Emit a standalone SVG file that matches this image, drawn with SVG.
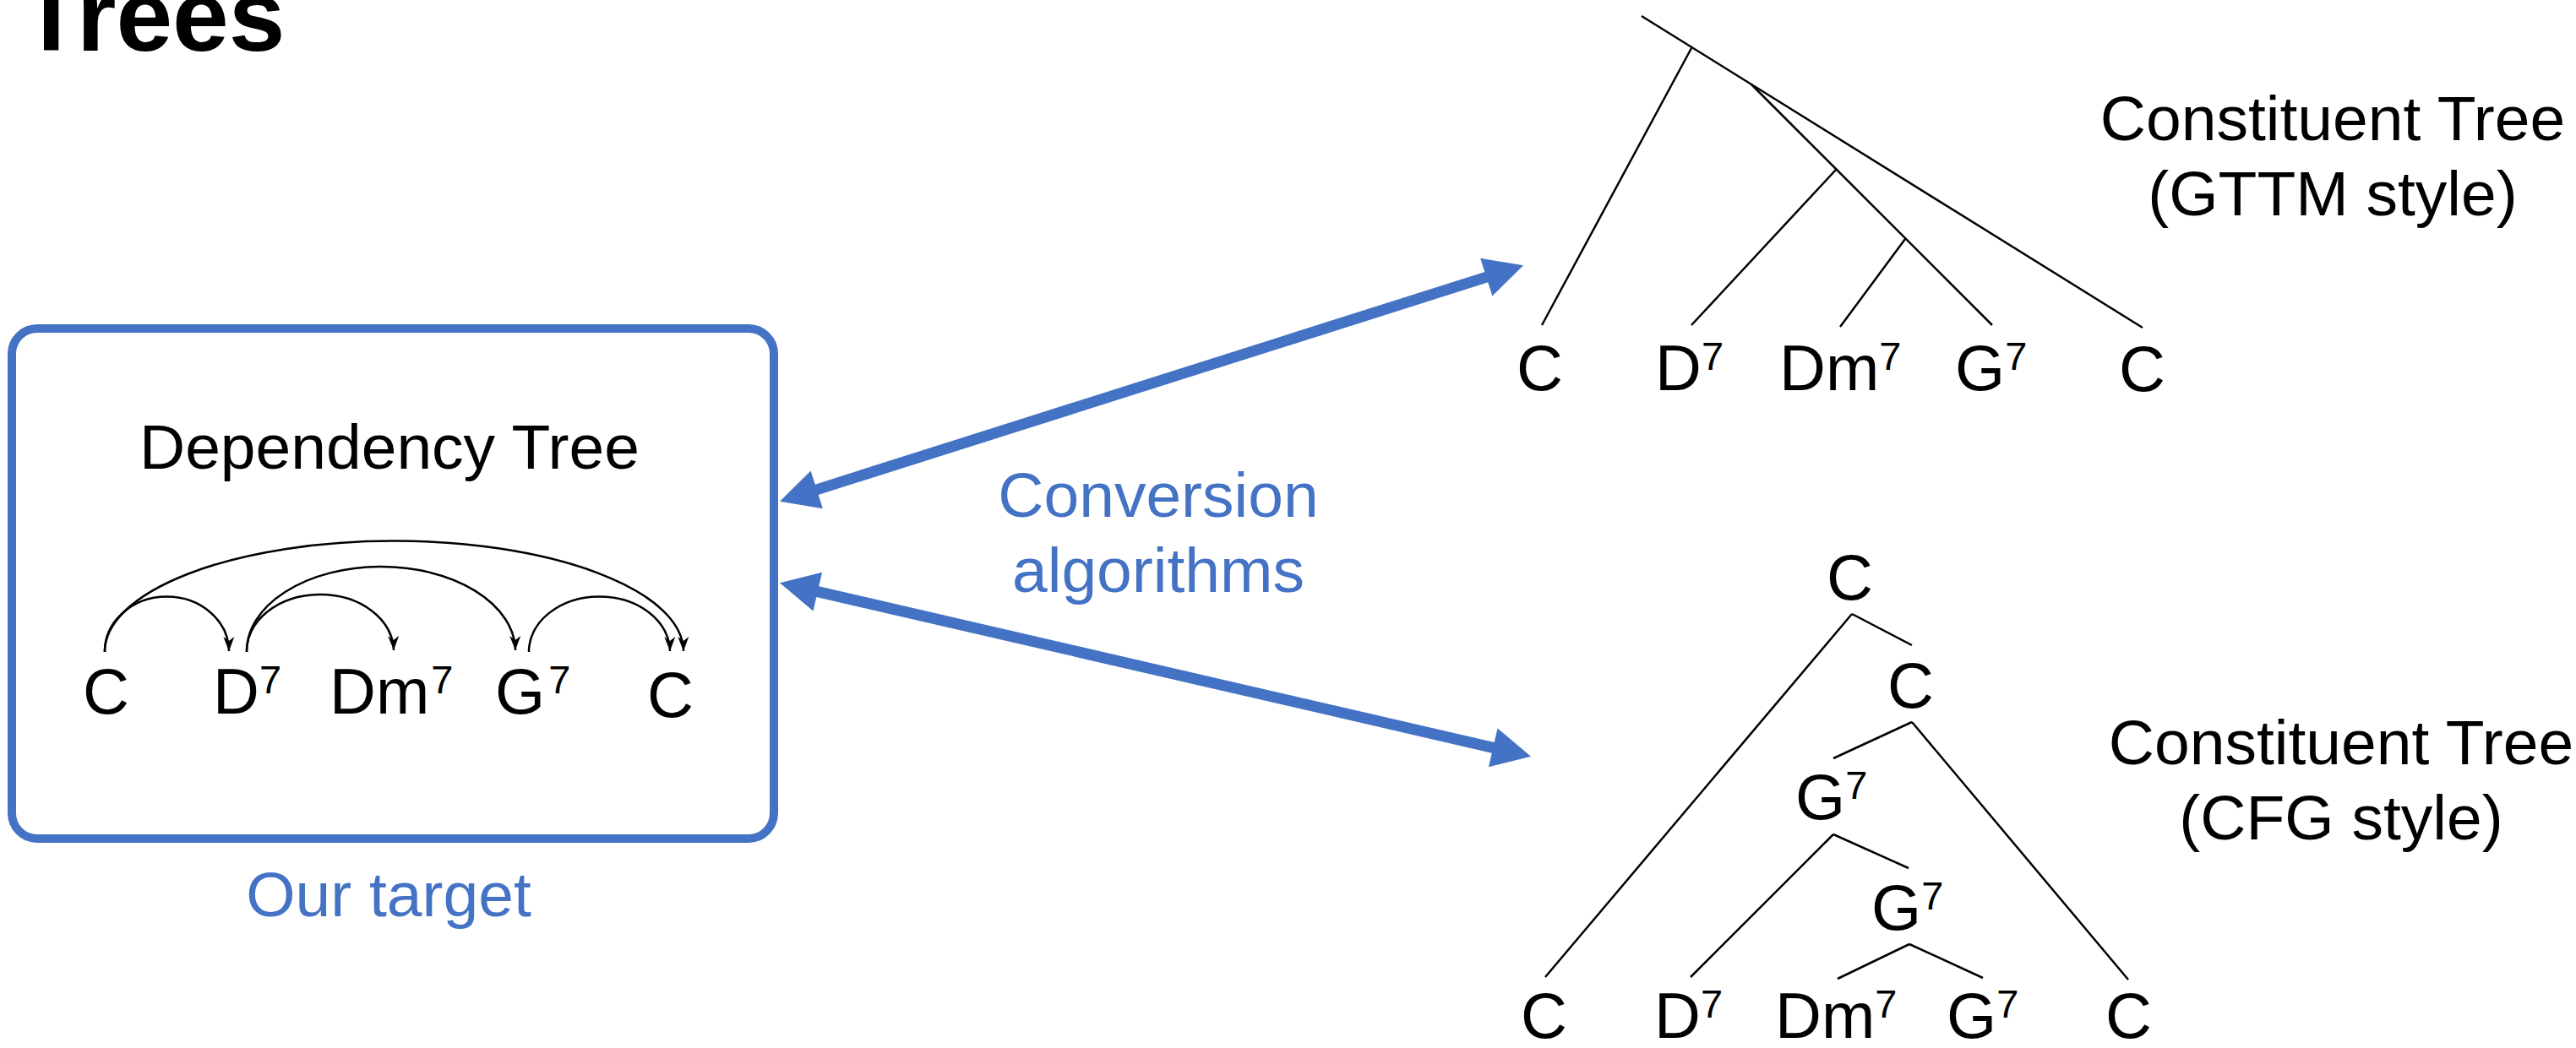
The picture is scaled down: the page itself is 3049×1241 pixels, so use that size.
<svg xmlns="http://www.w3.org/2000/svg" width="3049" height="1241" viewBox="0 0 3049 1241">
<style>
text{font-family:"Liberation Sans",Arial,sans-serif;fill:#000}
.lbl{font-size:76px}
.sup{font-size:47px}
.cap{font-size:75px;text-anchor:middle}
.blue{fill:#4472C4}
.tl{stroke:#000;stroke-width:2.5;fill:none}
.dep{stroke:#000;stroke-width:2.5;fill:none;marker-end:url(#stealth)}
.big{stroke:#4472C4;stroke-width:13;fill:none;marker-start:url(#bh);marker-end:url(#bh)}
</style>
<defs>
<marker id="stealth" markerUnits="userSpaceOnUse" markerWidth="20" markerHeight="16" viewBox="-18 -8 20 16" refX="0" refY="0" orient="auto" overflow="visible">
<path d="M0,0 L-17,-6.5 L-12,0 L-17,6.5 Z" fill="#000"/>
</marker>
<marker id="bh" markerUnits="userSpaceOnUse" markerWidth="48" markerHeight="48" viewBox="0 0 48 48" refX="1" refY="23.5" orient="auto-start-reverse" overflow="visible">
<path d="M0,0 L46,23.5 L0,47 Z" fill="#4472C4"/>
</marker>
</defs>
<rect width="3049" height="1241" fill="#fff"/>
<text id="title" x="24" y="60" font-size="120" font-weight="bold">Trees</text>

<g id="dependency-tree">
<rect x="14" y="389" width="902" height="604" rx="30" ry="30" fill="none" stroke="#4472C4" stroke-width="10"/>
<text class="cap" x="461" y="555">Dependency Tree</text>
<g id="dep-labels">
<text class="lbl" x="98" y="845">C</text>
<text class="lbl" x="252" y="845">D<tspan class="sup" dy="-24">7</tspan></text>
<text class="lbl" x="390" y="845">Dm<tspan class="sup" dy="-24" dx="2">7</tspan></text>
<text class="lbl" x="586" y="845">G<tspan class="sup" dy="-24" dx="4">7</tspan></text>
<text class="lbl" x="766" y="849">C</text>
</g>
<g id="dep-arcs">
<path class="dep" d="M124,772 A73.5,65 0 0 1 271,771"/>
<path class="dep" d="M124,772 A342.5,131 0 0 1 809,771"/>
<path class="dep" d="M292,772 A87,67 0 0 1 466,770"/>
<path class="dep" d="M292,772 A159,100 0 0 1 610,770"/>
<path class="dep" d="M626,772 A83.5,65 0 0 1 793,771"/>
</g>
</g>
<text id="our-target" class="cap blue" x="460" y="1085">Our target</text>

<g id="connectors">
<line class="big" x1="965.8" y1="580.1" x2="1760.2" y2="327.9"/>
<line class="big" x1="966.8" y1="700.4" x2="1768.2" y2="885.6"/>
</g>
<text id="conversion" class="cap blue" x="1371"><tspan x="1371" y="612">Conversion</tspan><tspan x="1371" y="701">algorithms</tspan></text>

<g id="gttm-tree">
<g class="tl">
<line x1="1943" y1="19" x2="2536" y2="388"/>
<line x1="2002" y1="57" x2="1825" y2="385"/>
<line x1="2073" y1="100" x2="2358" y2="385"/>
<line x1="2173" y1="201" x2="2002" y2="385"/>
<line x1="2255" y1="283" x2="2178" y2="387"/>
</g>
<text class="lbl" x="1795" y="462">C</text>
<text class="lbl" x="1959" y="462">D<tspan class="sup" dy="-24">7</tspan></text>
<text class="lbl" x="2106" y="462">Dm<tspan class="sup" dy="-24">7</tspan></text>
<text class="lbl" x="2314" y="462">G<tspan class="sup" dy="-24">7</tspan></text>
<text class="lbl" x="2508" y="463">C</text>
<text class="cap"><tspan x="2761" y="166">Constituent Tree</tspan><tspan x="2761" y="255">(GTTM style)</tspan></text>
</g>

<g id="cfg-tree">
<g class="tl">
<line x1="2192" y1="727" x2="1829" y2="1157"/>
<line x1="2192" y1="727" x2="2263" y2="764"/>
<line x1="2263" y1="855" x2="2170" y2="898"/>
<line x1="2263" y1="855" x2="2519" y2="1160"/>
<line x1="2170" y1="988" x2="2001" y2="1157"/>
<line x1="2170" y1="988" x2="2259" y2="1028"/>
<line x1="2260" y1="1118" x2="2175" y2="1159"/>
<line x1="2260" y1="1118" x2="2347" y2="1158"/>
</g>
<text class="lbl" x="2162" y="710">C</text>
<text class="lbl" x="2234" y="838">C</text>
<text class="lbl" x="2125" y="970">G<tspan class="sup" dy="-24">7</tspan></text>
<text class="lbl" x="2215" y="1101">G<tspan class="sup" dy="-24">7</tspan></text>
<text class="lbl" x="1800" y="1229">C</text>
<text class="lbl" x="1958" y="1229">D<tspan class="sup" dy="-24">7</tspan></text>
<text class="lbl" x="2101" y="1229">Dm<tspan class="sup" dy="-24">7</tspan></text>
<text class="lbl" x="2304" y="1229">G<tspan class="sup" dy="-24">7</tspan></text>
<text class="lbl" x="2492" y="1229">C</text>
<text class="cap"><tspan x="2771" y="905">Constituent Tree</tspan><tspan x="2771" y="994">(CFG style)</tspan></text>
</g>
</svg>
